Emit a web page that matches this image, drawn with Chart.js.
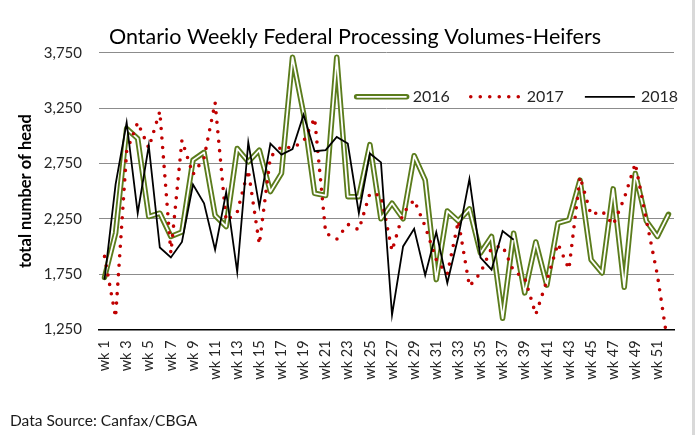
<!DOCTYPE html>
<html>
<head>
<meta charset="utf-8">
<title>Ontario Weekly Federal Processing Volumes-Heifers</title>
<script src="https://cdn.jsdelivr.net/npm/chart.js@4.4.1/dist/chart.umd.min.js"></script>
<style>
  html, body { margin: 0; padding: 0; background: #fff; }
  #wrap { position: relative; width: 700px; height: 435px; }
  #frameEdge { position: absolute; left: 692px; top: 0; width: 3px; height: 435px; background: #d9d9d9; }
</style>
</head>
<body>
<div id="wrap">
  <canvas id="volumeChart" width="700" height="435"></canvas>
  <div id="frameEdge"></div>
</div>
<script>
// Weekly heifer volumes
const weeks = ['wk 1', 'wk 2', 'wk 3', 'wk 4', 'wk 5', 'wk 6', 'wk 7', 'wk 8', 'wk 9', 'wk 10',
  'wk 11', 'wk 12', 'wk 13', 'wk 14', 'wk 15', 'wk 16', 'wk 17', 'wk 18', 'wk 19', 'wk 20',
  'wk 21', 'wk 22', 'wk 23', 'wk 24', 'wk 25', 'wk 26', 'wk 27', 'wk 28', 'wk 29', 'wk 30',
  'wk 31', 'wk 32', 'wk 33', 'wk 34', 'wk 35', 'wk 36', 'wk 37', 'wk 38', 'wk 39', 'wk 40',
  'wk 41', 'wk 42', 'wk 43', 'wk 44', 'wk 45', 'wk 46', 'wk 47', 'wk 48', 'wk 49', 'wk 50',
  'wk 51', 'wk 52'];
const yTicks = [1250, 1750, 2250, 2750, 3250, 3750];

const heifers2016 = [1720, 2120, 3065, 2975, 2270, 2300, 2090, 2130, 2780, 2850,
  2280, 2180, 2885, 2765, 2870, 2495, 2660, 3710, 3200, 2480,
  2460, 3710, 2450, 2450, 2920, 2250, 2390, 2250, 2820, 2600,
  1700, 2320, 2230, 2340, 1940, 2090, 1350, 2120, 1580, 2040,
  1650, 2210, 2240, 2600, 1880, 1760, 2520, 1630, 2660, 2230,
  2090, 2290];
const heifers2017 = [1910, 1360, 2860, 3120, 2890, 3220, 1940, 2960, 2650, 2800,
  3300, 2230, 2310, 2690, 2020, 2810, 2900, 2890, 2950, 3160,
  2120, 2065, 2200, 2150, 2480, 2460, 1960, 2300, 2420, 2180,
  1880, 1750, 2230, 1640, 1760, 1985, 2005, 1775, 1715, 1385,
  1690, 2025, 1795, 2630, 2285, 2320, 2195, 2435, 2750, 2240,
  1740, 1080];
const heifers2018 = [1700, 2560, 3120, 2300, 2910, 1990, 1900, 2040, 2560, 2390,
  1970, 2490, 1770, 2940, 2360, 2930, 2830, 2880, 3190, 2860,
  2870, 2990, 2930, 2300, 2840, 2760, 1380, 2000, 2160, 1740,
  2130, 1670, 2090, 2610, 1900, 1790, 2140, 2060];

const olive = '#5b7c1c';
const darkRed = '#c00000';
const textColor = '#262626';

Chart.defaults.font.family = 'Lato';
Chart.defaults.color = textColor;

// legend drawn inside the plot, one sample line per year
const lineLegend = {
  id: 'lineLegend',
  afterDatasetsDraw(chart) {
    const { ctx, chartArea } = chart;
    const groups = [];
    chart.data.datasets.forEach(ds => {
      let g = groups.find(item => item.label === ds.label);
      if (!g) {
        g = { label: ds.label, sets: [] };
        groups.push(g);
      }
      g.sets.push(ds);
    });

    ctx.save();
    ctx.font = '16px Lato';
    ctx.textBaseline = 'middle';
    const y = chartArea.top + 44;
    let x = chartArea.right + 4;
    for (let i = groups.length - 1; i >= 0; i--) {
      const g = groups[i];
      x -= ctx.measureText(g.label).width;
      ctx.fillStyle = textColor;
      ctx.fillText(g.label, x, y);
      const x1 = x - 6;
      const x0 = x1 - 50;
      g.sets.forEach(ds => {
        ctx.beginPath();
        ctx.setLineDash(ds.borderDash || []);
        ctx.lineCap = ds.borderCapStyle || 'butt';
        ctx.lineWidth = ds.borderWidth;
        ctx.strokeStyle = ds.borderColor;
        ctx.moveTo(x0, y);
        ctx.lineTo(x1, y);
        ctx.stroke();
      });
      x = x0 - 21;
    }
    ctx.restore();
  }
};

const ctx = document.getElementById('volumeChart').getContext('2d');
const volumeChart = new Chart(ctx, {
  type: 'line',
  data: {
    labels: weeks,
    datasets: [
      {
        label: '2016',
        data: heifers2016,
        borderColor: olive,
        borderWidth: 5.5,
        borderCapStyle: 'round',
        borderJoinStyle: 'round',
        pointRadius: 0,
        order: 3
      },
      {
        // white core makes the 2016 line look like a double line
        label: '2016',
        data: heifers2016,
        borderColor: '#ffffff',
        borderWidth: 1.8,
        borderJoinStyle: 'round',
        pointRadius: 0,
        order: 2
      },
      {
        label: '2017',
        data: heifers2017,
        borderColor: darkRed,
        borderWidth: 3.6,
        borderDash: [0, 9.5],
        borderCapStyle: 'round',
        pointRadius: 0,
        order: 1
      },
      {
        label: '2018',
        data: heifers2018,
        borderColor: '#000000',
        borderWidth: 1.8,
        pointRadius: 0,
        order: 0
      }
    ]
  },
  options: {
    responsive: false,
    animation: false,
    layout: { padding: { left: 10, right: 0, top: 0, bottom: 0 } },
    plugins: {
      legend: { display: false },
      tooltip: { enabled: false },
      title: {
        display: true,
        text: 'Ontario Weekly Federal Processing Volumes-Heifers',
        color: '#000',
        font: { size: 21.5, weight: 'normal' },
        padding: { top: 24, bottom: 3 }
      },
      subtitle: {
        display: true,
        position: 'bottom',
        align: 'start',
        text: 'Data Source: Canfax/CBGA',
        color: '#1a1a1a',
        font: { size: 15.5 },
        padding: { top: 4, bottom: 5 }
      }
    },
    scales: {
      x: {
        offset: true,
        grid: { display: false, drawTicks: false },
        border: { color: '#000', width: 1.5 },
        ticks: {
          autoSkip: false,
          minRotation: 90,
          maxRotation: 90,
          padding: 11,
          font: { size: 14.5 },
          callback: (value, index) => (index % 2 === 0 ? weeks[index] : '')
        },
        afterFit: scale => { scale.height = 78; }
      },
      y: {
        min: 1250,
        max: 3750,
        afterBuildTicks: scale => { scale.ticks = yTicks.map(v => ({ value: v })); },
        afterFit: scale => { scale.width = 89; },
        grid: { color: '#8c8c8c', drawTicks: false },
        border: { display: false },
        ticks: {
          padding: 17,
          font: { size: 15 },
          callback: value => value.toLocaleString('en-US')
        },
        title: {
          display: true,
          text: 'total number of head',
          color: '#000',
          font: { size: 16.5, weight: 'bold' },
          padding: { top: 6, bottom: 0 }
        }
      },
      // empty axis that keeps the right margin of the plot
      yRight: {
        position: 'right',
        grid: { display: false },
        border: { display: false },
        ticks: { display: false },
        afterFit: scale => { scale.width = 26; }
      }
    }
  },
  plugins: [lineLegend]
});
</script>
</body>
</html>
